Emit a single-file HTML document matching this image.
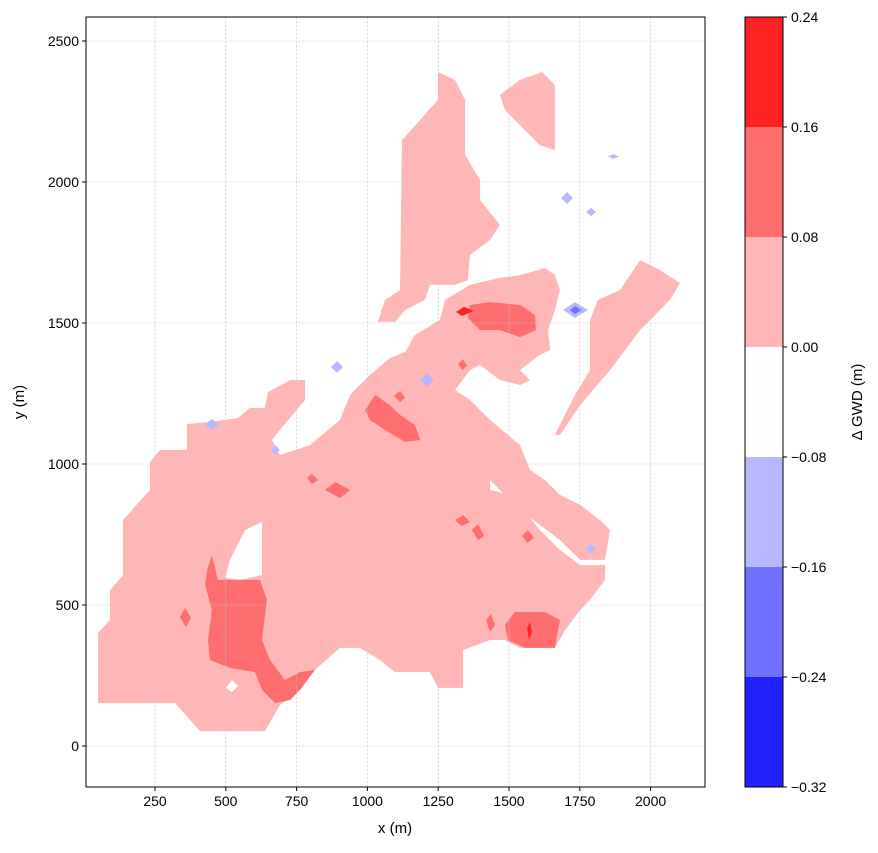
<!DOCTYPE html>
<html><head><meta charset="utf-8">
<style>
body{margin:0;background:#fff;font-family:"Liberation Sans",sans-serif;}
svg text{font-family:"Liberation Sans","DejaVu Sans",sans-serif;fill:#000;}
</style></head>
<body>
<svg id="chart" width="878" height="848" viewBox="0 0 878 848" xmlns="http://www.w3.org/2000/svg"></svg>
<script>
// axis data
const xTicks=[250,500,750,1000,1250,1500,1750,2000];
const yTicks=[0,500,1000,1500,2000,2500];
const levels=[-0.32,-0.24,-0.16,-0.08,0.00,0.08,0.16,0.24];
const levelColors=['#2222ff','#7070ff','#b8b8ff','#fefefe','#ffb6b6','#ff6e6e','#ff2222'];
// contour regions (in metres): [levelIndex, [x,y,...]]
const P=(a)=>a.map((v,i)=>i%2==0?+( (v-84.2)/0.2832).toFixed(0):+((746-v)/0.282).toFixed(0));
const regions=[
 [4,P([98,703,98,633,110,620,110,590,123,575,123,520,150,490,150,462,160,450,187,450,187,424,210,422,238,418,250,408,265,408,268,392,290,380,305,380,305,400,280,430,272,440,280,455,310,445,340,420,350,395,370,375,390,358,405,352,440,380,470,400,490,420,500,440,490,470,490,490,510,495,520,505,540,530,560,550,580,565,605,565,605,580,590,600,580,610,565,630,555,648,520,648,505,640,490,640,463,650,463,688,438,688,430,672,395,672,380,660,360,648,340,648,315,670,300,690,280,705,265,731,200,731,175,703])],
 [3,P([225,578,230,560,245,530,262,522,262,575,240,580])],
 [3,P([226,688,232,680,238,686,232,692])],
 [4,P([378,322,385,300,400,290,402,140,420,120,438,100,438,72,455,80,465,100,465,155,480,180,480,200,500,225,490,240,470,255,468,280,455,285,430,285,425,300,405,310,395,322])],
 [4,P([500,95,520,80,542,72,555,85,555,150,540,145,520,125,505,110])],
 [4,P([405,352,415,335,440,320,445,300,470,285,500,278,520,275,545,268,555,275,560,290,555,310,548,330,550,350,540,355,520,370,530,380,520,385,500,380,480,365,470,370,455,390,460,400,470,400,490,420,520,445,530,470,545,480,560,495,580,505,600,520,610,530,605,560,580,560,560,540,540,525,520,510,500,490,490,480,470,470,450,440,440,420,430,400,420,380,410,365])],
 [4,P([555,435,575,395,590,370,590,320,598,300,620,290,640,260,660,270,680,283,670,300,640,330,610,370,580,405,560,435])],
 [5,P([207,570,212,555,218,580,240,580,260,580,267,600,262,640,270,660,285,680,300,672,315,670,300,690,290,700,275,703,262,690,255,672,230,668,210,660,208,640,212,610,205,585])],
 [5,P([505,625,515,612,545,612,560,620,555,648,525,648,508,640])],
 [5,P([470,305,490,302,520,305,535,315,536,330,520,337,500,330,480,330,468,318])],
 [5,P([365,410,375,395,390,405,400,415,415,425,420,440,405,442,385,430,370,420])],
 [5,P([325,490,335,482,350,490,340,498])],
 [5,P([180,617,185,608,191,618,186,627])],
 [5,P([455,520,463,515,470,522,462,526])],
 [5,P([472,530,478,524,484,536,478,540])],
 [5,P([522,536,528,530,534,538,527,543])],
 [5,P([486,620,491,614,495,625,490,632])],
 [5,P([307,478,312,474,318,480,312,484])],
 [5,P([458,364,463,359,467,366,462,370])],
 [5,P([394,396,400,391,405,398,400,402])],
 [6,P([456,312,464,307,474,311,462,316])],
 [6,P([527,628,530,622,532,632,529,640])],
 [2,P([563,310,575,302,588,310,575,318])],
 [1,P([570,310,575,306,582,310,575,314])],
 [2,P([420,380,427,373,434,380,427,387])],
 [2,P([331,367,337,361,343,367,337,373])],
 [2,P([561,198,567,192,573,198,567,204])],
 [2,P([205,425,212,419,219,425,212,430])],
 [2,P([271,450,275,445,280,450,275,455])],
 [2,P([586,549,591,544,596,549,591,554])],
 [2,P([586,212,591,208,596,212,591,216])],
 [2,P([608,156,614,154,619,157,613,159])]
];
const NS='http://www.w3.org/2000/svg';
const svg=document.getElementById('chart');
const L=86,R=705,T=17,B=787;
const sx=v=>84.2+v*0.2832, sy=v=>746-v*0.282;
function el(t,a){const e=document.createElementNS(NS,t);for(const k in a)e.setAttribute(k,a[k]);svg.appendChild(e);return e;}
regions.forEach(([li,pts],i)=>{
 let d='';for(let k=0;k<pts.length;k+=2)d+=(k?'L':'M')+sx(pts[k]).toFixed(1)+','+sy(pts[k+1]).toFixed(1);
 const p=el('path',{d:d+'Z',fill:levelColors[li]});
 
 
});
xTicks.forEach(v=>{const g=el('line',{x1:sx(v),x2:sx(v),y1:T,y2:B,stroke:'#c4c4c4','stroke-width':0.6,'stroke-dasharray':'2.5,1.5'});
 });
yTicks.forEach(v=>{const g=el('line',{x1:L,x2:R,y1:sy(v),y2:sy(v),stroke:'#c4c4c4','stroke-width':0.6,'stroke-dasharray':'2.5,1.5'});
 });
const frame=el('rect',{x:L,y:T,width:R-L,height:B-T,fill:'none',stroke:'#000','stroke-width':1});

xTicks.forEach(v=>{el('line',{x1:sx(v),x2:sx(v),y1:B,y2:B+4,stroke:'#000'});
 const t=el('text',{x:sx(v),y:B+19,'text-anchor':'middle','font-size':14});t.textContent=v;
 });
yTicks.forEach(v=>{el('line',{x1:L-4,x2:L,y1:sy(v),y2:sy(v),stroke:'#000'});
 const t=el('text',{x:L-7,y:sy(v)+5,'text-anchor':'end','font-size':14});t.textContent=v;
 });
const xl=el('text',{x:395,y:833,'text-anchor':'middle','font-size':15});xl.textContent='x (m)';

const yl=el('text',{x:24,y:402,'text-anchor':'middle','font-size':15,transform:'rotate(-90 24 402)'});yl.textContent='y (m)';

const CL=745,CR=783,CT=17,CB=787;
const cy=v=>CB-(v-levels[0])/(levels[levels.length-1]-levels[0])*(CB-CT);
for(let i=0;i<levelColors.length;i++){
 const r=el('rect',{x:CL,y:cy(levels[i+1]),width:CR-CL,height:cy(levels[i])-cy(levels[i+1]),fill:levelColors[i]});
 
}
el('rect',{x:CL,y:CT,width:CR-CL,height:CB-CT,fill:'none',stroke:'#000','stroke-width':1});
levels.forEach(v=>{el('line',{x1:CR,x2:CR+4,y1:cy(v),y2:cy(v),stroke:'#000'});
 const t=el('text',{x:CR+8,y:cy(v)+5,'font-size':14});t.textContent=(v<0?'\u2212':'')+Math.abs(v).toFixed(2);
 });
const cl=el('text',{x:862,y:402,'text-anchor':'middle','font-size':15,transform:'rotate(-90 862 402)'});cl.textContent='Δ GWD (m)';

</script>
</body></html>
